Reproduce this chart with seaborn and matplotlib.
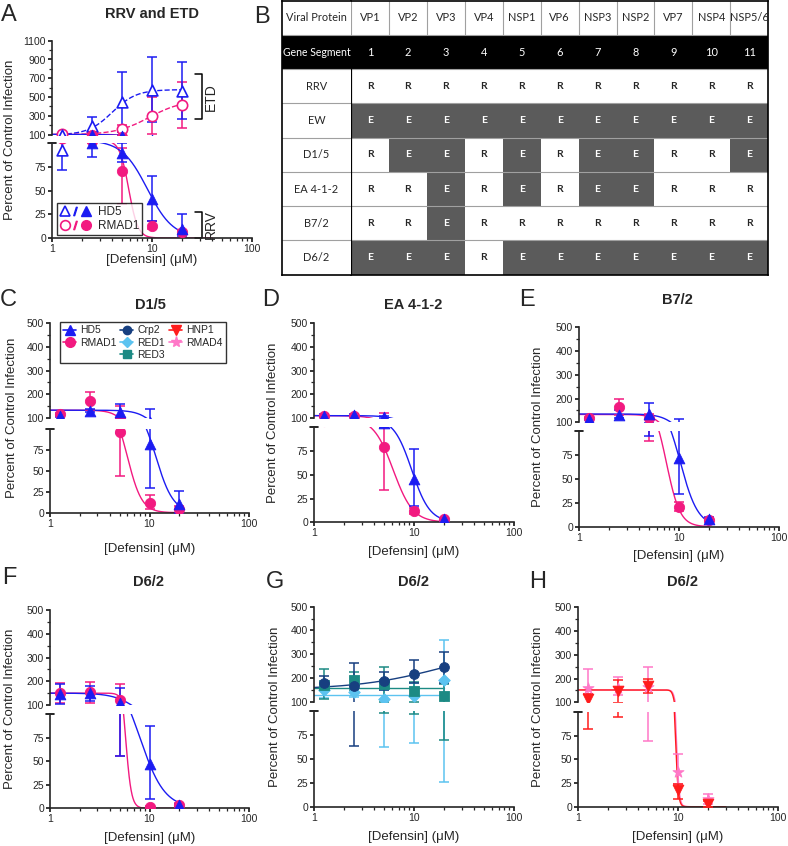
import numpy as np
import pandas as pd
import seaborn as sns
import matplotlib
matplotlib.use("Agg")
import matplotlib.pyplot as plt
from matplotlib.colors import ListedColormap
from matplotlib.lines import Line2D
from matplotlib.legend_handler import HandlerTuple
from matplotlib import ticker

sns.set_style("ticks")
plt.rcParams["font.family"] = ["Liberation Sans", "DejaVu Sans"]

# ---------------- data ----------------
conc = [1.25, 2.5, 5, 10, 20]
nan = np.nan

# Panel A : RRV and ETD
A_etd_hd5 = [93, 190, 450, 580, 570]
A_etd_hd5_lo = [72, 115, 130, 240, 265]
A_etd_hd5_hi = [115, 285, 765, 925, 870]
A_etd_rmad1 = [105, 120, 165, 300, 420]
A_etd_rmad1_lo = [105, 100, 130, 105, 170]
A_etd_rmad1_hi = [105, 140, 205, 500, 665]
A_rrv_hd5 = [nan, 100, 90, 41, 10]
A_rrv_hd5_lo = [nan, 85, 80, 18, 2]
A_rrv_hd5_hi = [nan, 110, 100, 65, 25]
A_rrv_rmad1 = [nan, 102, 71, 13, 6]
A_rrv_rmad1_lo = [nan, 102, 36, 10, 4]
A_rrv_rmad1_hi = [nan, 102, 95, 18, 8]
# fit parameters: [low-conc plateau, high-conc plateau, EC50, Hill slope]
A_etd_hd5_fit = [97, 580, 4.0, 3.6]
A_etd_rmad1_fit = [100, 470, 9.4, 2.6]
A_rrv_hd5_fit = [103, 0, 9.0, 3.4]
A_rrv_rmad1_fit = [103, 0, 5.85, 9.5]

# Panel C : D1/5
C_hd5 = [108, 130, 125, 82, 10]
C_hd5_lo = [103, 124, 95, 30, 0]
C_hd5_hi = [113, 136, 160, 137, 26]
C_rmad1 = [115, 172, 96, 12, 5]
C_rmad1_lo = [110, 135, 44, 4, 3]
C_rmad1_hi = [120, 208, 150, 21, 8]
C_hd5_fit = [133, 0, 11.6, 5.0]
C_rmad1_fit = [133, 0, 6.0, 6.0]

# Panel D : EA 4-1-2
D_hd5 = [110, 112, 105, 46, 3]
D_hd5_lo = [104, 106, 100, 17, 1]
D_hd5_hi = [118, 116, 110, 77, 5]
D_rmad1 = [107, 110, 79, 12, 3]
D_rmad1_lo = [104, 107, 34, 9, 2]
D_rmad1_hi = [110, 113, 123, 15, 5]
D_hd5_fit = [110, 0, 9.5, 4.8]
D_rmad1_fit = [110, 0, 6.2, 4.4]

# Panel E : B7/2
E_hd5 = [112, 130, 135, 72, 8]
E_hd5_lo = [108, 120, 95, 34, 6]
E_hd5_hi = [116, 150, 183, 113, 10]
E_rmad1 = [118, 165, 117, 21, 7]
E_rmad1_lo = [114, 130, 90, 16, 5]
E_rmad1_hi = [122, 200, 135, 26, 9]
E_hd5_fit = [135, 0, 10.3, 4.9]
E_rmad1_fit = [133, 0, 7.5, 6.4]

# Panel F : D6/2
F_hd5 = [145, 150, 110, 47, 3]
F_hd5_lo = [105, 115, 55, 10, 1]
F_hd5_hi = [190, 182, 170, 87, 5]
F_rmad1 = [150, 155, 120, 1, 4]
F_rmad1_lo = [108, 110, 55, 0, 2]
F_rmad1_hi = [192, 198, 187, 2, 6]
F_hd5_fit = [150, 0, 8.0, 3.5]
F_rmad1_fit = [150, 0, 5.75, 15]

# Panel G : D6/2
G_crp2 = [180, 168, 188, 218, 245]
G_crp2_lo = [160, 63, 150, 180, 180]
G_crp2_hi = [210, 263, 225, 275, 310]
G_red1 = [150, 140, 110, 122, 190]
G_red1_lo = [115, 120, 62, 67, 26]
G_red1_hi = [165, 160, 150, 180, 360]
G_red3 = [170, 190, 175, 145, 122]
G_red3_lo = [110, 150, 98, 97, 70]
G_red3_hi = [238, 223, 248, 185, 175]
G_crp2_fit = [151, 339, 20, 1]
G_red1_fit = [130, 130, 10, 1]
G_red3_fit = [158, 158, 10, 1]

# Panel H : D6/2
H_hnp1 = [112, 148, 168, 18, 3]
H_hnp1_lo = [82, 95, 140, 8, 0]
H_hnp1_hi = [135, 195, 198, 24, 6]
H_rmad4 = [160, 160, 165, 37, 8]
H_rmad4_lo = [135, 130, 69, 24, 3]
H_rmad4_hi = [242, 205, 250, 56, 13]
H_hnp1_fit = [152, 0, 9.4, 30]
H_rmad4_fit = [152, 0, 9.6, 30]

# Panel B table
proteins = ["VP1", "VP2", "VP3", "VP4", "NSP1", "VP6", "NSP3", "NSP2", "VP7", "NSP4", "NSP5/6"]
segments = ["1", "2", "3", "4", "5", "6", "7", "8", "9", "10", "11"]
strains = ["RRV", "EW", "D1/5", "EA 4-1-2", "B7/2", "D6/2"]
origins = ["RRRRRRRRRRR",   # RRV
           "EEEEEEEEEEE",   # EW
           "REERERERRRE".replace("REERERERRRE", "REERERE") + "ERRE",   # D1/5
           "RRERERE" + "ERRR",   # EA 4-1-2
           "RRERRRRRRRR",   # B7/2
           "EEEREEEEEEE"]   # D6/2

# ---------------- style ----------------
BLUE = "#1c1cf2"
PINK = "#f21a80"
NAVY = "#173f80"
LBLUE = "#5cc3f0"
TEAL = "#1c8a84"
RED = "#ff1c1c"
LPINK = "#ff78c8"

W, H = 788, 846
fig = plt.figure(figsize=(W / 100, H / 100), dpi=100)


def fit_curve(p, x):
    top, bottom, ec50, hill = p
    return bottom + (top - bottom) / (1 + (x / ec50) ** hill)


def make_panel(xl, xr, ut, ub, lt, lb, ytop, major, minor):
    ax_u = fig.add_axes([xl / W, 1 - ub / H, (xr - xl) / W, (ub - ut) / H])
    ax_l = fig.add_axes([xl / W, 1 - lb / H, (xr - xl) / W, (lb - lt) / H])
    for ax in (ax_u, ax_l):
        ax.set_xscale("log")
        ax.set_xlim(1, 100)
        ax.spines["top"].set_visible(False)
        ax.spines["right"].set_visible(False)
        ax.spines["left"].set_linewidth(1.2)
        ax.spines["bottom"].set_linewidth(1.2)
        ax.tick_params(axis="both", which="major", length=3.2, width=1.1, pad=1.2, labelsize=7.5, color="black")
        ax.tick_params(axis="both", which="minor", length=2.0, width=0.9)
        ax.patch.set_alpha(0)
    ax_u.set_ylim(100, ytop)
    ax_u.set_yticks(major)
    ax_u.yaxis.set_minor_locator(ticker.MultipleLocator(minor))
    ax_u.spines["bottom"].set_visible(False)
    ax_u.tick_params(axis="x", which="both", bottom=False, labelbottom=False)
    ax_l.set_ylim(0, 100)
    ax_l.set_yticks([0, 25, 50, 75])
    ax_l.yaxis.set_minor_locator(ticker.NullLocator())
    ax_l.xaxis.set_major_locator(ticker.FixedLocator([1, 10, 100]))
    ax_l.xaxis.set_major_formatter(ticker.FixedFormatter(["1", "10", "100"]))
    ax_l.xaxis.set_minor_locator(ticker.LogLocator(base=10, subs=np.arange(2, 10)))
    ax_l.xaxis.set_minor_formatter(ticker.NullFormatter())
    ax_l.plot([-0.022, 0.022], [1, 1], transform=ax_l.transAxes, color="black", lw=1.2, clip_on=False)
    return ax_u, ax_l


def draw(axes, y, lo, hi, fit, color, marker, s=55, hollow=False, dashed=False, x_end=20):
    y = np.array(y, float)
    lo = np.array(lo, float)
    hi = np.array(hi, float)
    xc = np.geomspace(1, x_end, 400)
    yc = fit_curve(fit, xc)
    for ax in axes:
        sns.lineplot(x=xc, y=yc, ax=ax, color=color, linewidth=1.0,
                     linestyle="--" if dashed else "-", zorder=2, sort=False, estimator=None)
        ax.errorbar(conc, y, yerr=[y - lo, hi - y], fmt="none", ecolor=color,
                    elinewidth=1.1, capsize=3.3, capthick=1.1, zorder=3)
        sns.scatterplot(x=conc, y=y, ax=ax, marker=marker, s=s,
                        color="white" if hollow else color, edgecolor=color,
                        linewidth=1.2 if hollow else 0.6, zorder=4, legend=False)
        ax.set_xlabel("")
        ax.set_ylabel("")


def labels(xl, xr, ut, lb, ylab_x, xlab_y, title, title_xy, letter, letter_xy):
    fig.text(ylab_x / W, 1 - ((ut + lb) / 2) / H, "Percent of Control Infection", rotation=90,
             ha="center", va="center", fontsize=9.5)
    mid = xl + (xr - xl) / 2
    fig.text(mid / W, 1 - xlab_y / H, "[Defensin] (μM)", ha="center", va="center", fontsize=9.5)
    fig.text(title_xy[0] / W, 1 - title_xy[1] / H, title, ha="center", va="center",
             fontsize=10.5, fontweight="bold")
    fig.text(letter_xy[0] / W, 1 - letter_xy[1] / H, letter, ha="center", va="center", fontsize=17)


# ---------------- Panel A ----------------
aU, aL = make_panel(52, 252, 40.7, 134.7, 143, 238, 1100, [100, 300, 500, 700, 900, 1100], 100)
draw((aU, aL), A_etd_rmad1, A_etd_rmad1_lo, A_etd_rmad1_hi, A_etd_rmad1_fit, PINK, "o", 55, hollow=True, dashed=True)
draw((aU, aL), A_etd_hd5, A_etd_hd5_lo, A_etd_hd5_hi, A_etd_hd5_fit, BLUE, "^", 60, hollow=True, dashed=True)
draw((aU, aL), A_rrv_rmad1, A_rrv_rmad1_lo, A_rrv_rmad1_hi, A_rrv_rmad1_fit, PINK, "o", 55, x_end=40)
draw((aU, aL), A_rrv_hd5, A_rrv_hd5_lo, A_rrv_hd5_hi, A_rrv_hd5_fit, BLUE, "^", 60)
labels(52, 252, 40.7, 238, 10, 260, "RRV and ETD", (152, 14), "A", (9, 15))
aU.plot([27, 31.6, 31.6, 27], [750, 750, 270, 270], color="black", lw=1.1, clip_on=False)
aU.text(39, 505, "ETD", rotation=90, ha="center", va="center", fontsize=10)
aL.plot([27, 31.6, 31.6, 27], [27, 27, 0.5, 0.5], color="black", lw=1.1, clip_on=False)
aL.text(39, 14, "RRV", rotation=90, ha="center", va="center", fontsize=10)


def tup(color, m):
    return (Line2D([], [], ls="none", marker=m, markersize=7, markerfacecolor="white",
                   markeredgecolor=color, markeredgewidth=1.2),
            Line2D([], [], ls="none", marker="$/$", markersize=6, color=color),
            Line2D([], [], ls="none", marker=m, markersize=7, color=color))


leg = aL.legend(handles=[tup(BLUE, "^"), tup(PINK, "o")], labels=["HD5", "RMAD1"],
                handler_map={tuple: HandlerTuple(ndivide=None, pad=0.0)},
                loc="lower left", bbox_to_anchor=(0.025, 0.03), fontsize=8.5, frameon=True,
                fancybox=False, edgecolor="black", handlelength=2.6, handletextpad=0.6,
                borderpad=0.25, labelspacing=0.15, borderaxespad=0)
leg.get_frame().set_linewidth(1.0)

# ---------------- Panel C ----------------
cU, cL = make_panel(50, 249, 323.3, 418, 428.7, 512.7, 500, [100, 200, 300, 400, 500], 50)
draw((cU, cL), C_rmad1, C_rmad1_lo, C_rmad1_hi, C_rmad1_fit, PINK, "o")
draw((cU, cL), C_hd5, C_hd5_lo, C_hd5_hi, C_hd5_fit, BLUE, "^", 60)
labels(50, 249, 323.3, 512.7, 12, 549, "D1/5", (150, 305), "C", (8, 300))


def h(color, m, ms=7):
    return Line2D([], [], color=color, marker=m, markersize=ms, lw=1.2)


blank = Line2D([], [], alpha=0)
leg = cU.legend(handles=[h(BLUE, "^"), h(PINK, "o"), blank, h(NAVY, "o", 6), h(LBLUE, "D", 5),
                         h(TEAL, "s", 6), h(RED, "v"), h(LPINK, "*", 8), blank],
                labels=["HD5", "RMAD1", "", "Crp2", "RED1", "RED3", "HNP1", "RMAD4", ""],
                ncol=3, loc="upper left", bbox_to_anchor=(0.05, 1.01), fontsize=7.5,
                frameon=True, fancybox=False, edgecolor="black", handlelength=1.25,
                handletextpad=0.4, columnspacing=0.35, labelspacing=0.2, borderpad=0.3,
                borderaxespad=0)
leg.get_frame().set_linewidth(1.0)

# ---------------- Panel D ----------------
dU, dL = make_panel(314, 514, 323.3, 418, 427.3, 522.3, 500, [100, 200, 300, 400, 500], 50)
draw((dU, dL), D_rmad1, D_rmad1_lo, D_rmad1_hi, D_rmad1_fit, PINK, "o")
draw((dU, dL), D_hd5, D_hd5_lo, D_hd5_hi, D_hd5_fit, BLUE, "^", 60)
labels(314, 514, 323.3, 522.3, 273, 552, "EA 4-1-2", (413, 305), "D", (271, 300))

# ---------------- Panel E ----------------
eU, eL = make_panel(579, 779, 327.3, 422.3, 431, 526.7, 500, [100, 200, 300, 400, 500], 50)
draw((eU, eL), E_rmad1, E_rmad1_lo, E_rmad1_hi, E_rmad1_fit, PINK, "o")
draw((eU, eL), E_hd5, E_hd5_lo, E_hd5_hi, E_hd5_fit, BLUE, "^", 60)
labels(579, 779, 327.3, 526.7, 538, 556, "B7/2", (677, 300), "E", (527, 300))

# ---------------- Panel F ----------------
fU, fL = make_panel(50, 249, 610, 705, 714, 808.3, 500, [100, 200, 300, 400, 500], 50)
draw((fU, fL), F_rmad1, F_rmad1_lo, F_rmad1_hi, F_rmad1_fit, PINK, "o")
draw((fU, fL), F_hd5, F_hd5_lo, F_hd5_hi, F_hd5_fit, BLUE, "^", 60)
labels(50, 249, 610, 808.3, 10, 838, "D6/2", (148, 582), "F", (9, 578))

# ---------------- Panel G ----------------
gU, gL = make_panel(314, 514, 606.7, 701.7, 711, 806.7, 500, [100, 200, 300, 400, 500], 50)
draw((gU, gL), G_red1, G_red1_lo, G_red1_hi, G_red1_fit, LBLUE, "D", 35)
draw((gU, gL), G_red3, G_red3_lo, G_red3_hi, G_red3_fit, TEAL, "s", 50)
draw((gU, gL), G_crp2, G_crp2_lo, G_crp2_hi, G_crp2_fit, NAVY, "o", 50)
labels(314, 514, 606.7, 806.7, 275, 837, "D6/2", (413, 582), "G", (275, 582))

# ---------------- Panel H ----------------
hU, hL = make_panel(578, 778, 607.3, 702.3, 712, 806.7, 500, [100, 200, 300, 400, 500], 50)
draw((hU, hL), H_rmad4, H_rmad4_lo, H_rmad4_hi, H_rmad4_fit, LPINK, "*", 70, x_end=30)
draw((hU, hL), H_hnp1, H_hnp1_lo, H_hnp1_hi, H_hnp1_fit, RED, "v", 60, x_end=30)
labels(578, 778, 607.3, 806.7, 538, 837, "D6/2", (683, 582), "H", (538, 582))

# ---------------- Panel B : reassortant table ----------------
GRAY = "#5b5b5b"
LINE = "#a0a0a0"
codes = [[0] * 11, [2] * 11] + [[1 if c == "E" else 0 for c in row] for row in origins]
annot = [proteins, segments] + [list(row) for row in origins]
codes_df = pd.DataFrame(codes)
annot_arr = np.array(annot, dtype=object)
cmap = ListedColormap(["white", GRAY, "black"])

top_px, bot_px = 0.7, 274.7
axR = fig.add_axes([351 / W, 1 - bot_px / H, (768.3 - 351) / W, (bot_px - top_px) / H])
sns.heatmap(codes_df, ax=axR, cmap=cmap, vmin=0, vmax=2, cbar=False, annot=annot_arr, fmt="",
            annot_kws={"fontsize": 7.9, "family": "Lato"}, xticklabels=False, yticklabels=False,
            linewidths=0)
for t in axR.texts:
    if t.get_position()[1] > 2:
        t.set_fontweight("bold")
        t.set_fontsize(7.5)
for i in range(1, 8):
    axR.axhline(i, color=LINE, lw=0.8)
axR.vlines(np.arange(1, 11), 0, 1, color=LINE, lw=0.8)
axR.vlines(0, 2, 8, color="black", lw=1.6, clip_on=False)
axR.vlines(0, 0, 1, color=LINE, lw=0.8, clip_on=False)
for side in ("top", "right", "bottom"):
    axR.spines[side].set_visible(True)
    axR.spines[side].set_color("black")
    axR.spines[side].set_linewidth(1.2)

axL = fig.add_axes([282 / W, 1 - bot_px / H, (351 - 282) / W, (bot_px - top_px) / H])
left_codes = pd.DataFrame([[0], [2]] + [[0]] * len(strains))
left_annot = np.array([["Viral Protein"], ["Gene Segment"]] + [[s] for s in strains], dtype=object)
sns.heatmap(left_codes, ax=axL, cmap=cmap, vmin=0, vmax=2, cbar=False, annot=left_annot, fmt="",
            annot_kws={"fontsize": 7.9, "family": "Lato"}, xticklabels=False, yticklabels=False,
            linewidths=0)
for t in axL.texts:
    if t.get_text() == "Gene Segment":
        t.set_fontsize(7.6)
for i in range(1, 8):
    axL.axhline(i, color=LINE, lw=0.8)
for side in ("top", "left", "bottom"):
    axL.spines[side].set_visible(True)
    axL.spines[side].set_color("black")
    axL.spines[side].set_linewidth(1.2)
fig.text(262 / W, 1 - 17 / H, "B", ha="center", va="center", fontsize=17)

fig.savefig("out.png", dpi=100)
